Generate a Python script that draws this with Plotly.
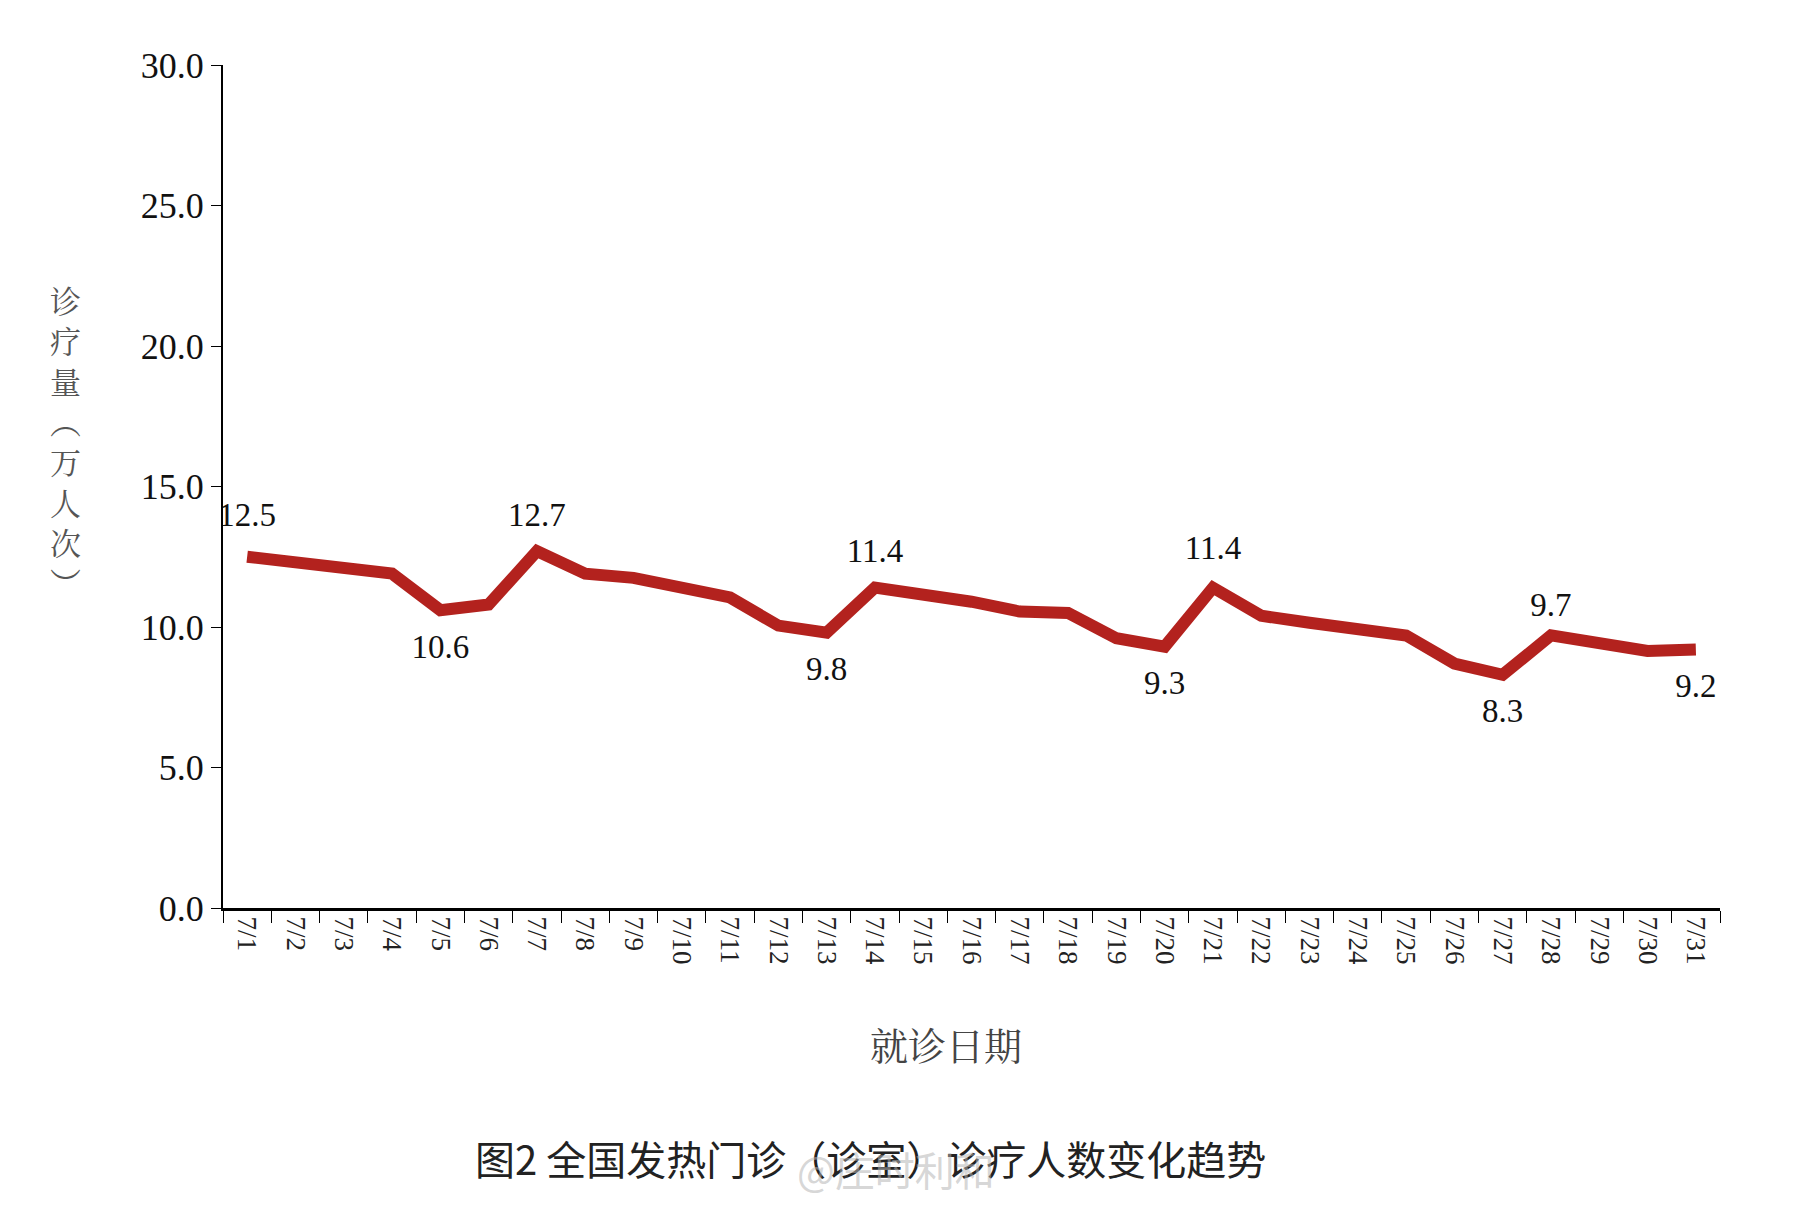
import plotly.graph_objects as go

dates = [f"7/{d}" for d in range(1, 32)]
values = [12.5, 12.3, 12.1, 11.9, 10.6, 10.8, 12.7, 11.9, 11.75, 11.45, 11.05, 10.05, 9.8,
          11.4, 11.2, 10.9, 10.55, 10.5, 9.6, 9.3, 11.4, 10.4, 10.15, 9.9, 9.7, 8.7, 8.3,
          9.7, 9.4, 9.15, 9.2]
label_idx = [0, 4, 6, 12, 13, 19, 20, 26, 27, 30]
label_text = ["12.5", "10.6", "12.7", "9.8", "11.4", "9.3", "11.4", "8.3", "9.7", "9.2"]
label_dy = [1.4, -1.4, 1.2, -1.4, 1.2, -1.4, 1.3, -1.4, 1.0, -1.4]
y_ticks = [0, 5, 10, 15, 20, 25, 30]
ylabel_text = "诊<br>疗<br>量<br>︵<br>万<br>人<br>次<br>︶"

serif = "Liberation Serif, Times New Roman, serif"
cjk = "Noto Serif CJK SC, Noto Sans CJK SC"
L, R, T, B = 215, 82, 57, 318
W, H = 1794, 1218
pw, ph = W - L - R, H - T - B

fig = go.Figure()
fig.add_trace(go.Scatter(x=dates, y=values, mode="lines", line=dict(color="#B3221E", width=12),
                         hoverinfo="skip"))
fig.add_trace(go.Scatter(x=[dates[i] for i in label_idx],
                         y=[values[i] + d for i, d in zip(label_idx, label_dy)],
                         mode="text", text=label_text, textposition="middle center",
                         textfont=dict(family=serif, size=33, color="#111")))

def px(x, y):
    return (x - L) / pw, 1 - (y - T) / ph

ann = []
x, y = px(40, 432)
ann.append(dict(text=ylabel_text, x=x, y=y, showarrow=False, font=dict(family=cjk, size=31, color="#555")))
x, y = px(938, 1065)
ann.append(dict(text="就诊日期", x=x, y=y, showarrow=False, font=dict(family=cjk, size=38, color="#444")))
x, y = px(862, 1181)
ann.append(dict(text="图2 全国发热门诊（诊室）诊疗人数变化趋势", x=x, y=y, showarrow=False,
                font=dict(family="Noto Sans CJK SC", size=40, color="#222")))
x, y = px(888, 1192)
ann.append(dict(text="@庄时利和", x=x, y=y, showarrow=False,
                font=dict(family="Noto Sans CJK SC", size=40, color="rgba(180,180,180,0.55)")))
for a in ann:
    a.update(xref="paper", yref="paper")

fig.update_layout(
    width=W, height=H, showlegend=False,
    paper_bgcolor="white", plot_bgcolor="white",
    margin=dict(l=L, r=R, t=T, b=B),
    xaxis=dict(type="category", range=[-0.5, 30.5], tickangle=90, tickson="boundaries", ticks="outside",
               ticklen=12, tickcolor="black", showline=True, linecolor="black", linewidth=3,
               showgrid=False, tickfont=dict(family=serif, size=27, color="#222")),
    yaxis=dict(range=[0, 30], tickvals=y_ticks, ticktext=[f"{v:.1f}" for v in y_ticks],
               ticks="outside", ticklen=10, tickcolor="black", showline=True, linecolor="black",
               linewidth=2, showgrid=False, zeroline=False,
               tickfont=dict(family=serif, size=36, color="#111")),
    annotations=ann,
)
fig.write_html("out.html")
